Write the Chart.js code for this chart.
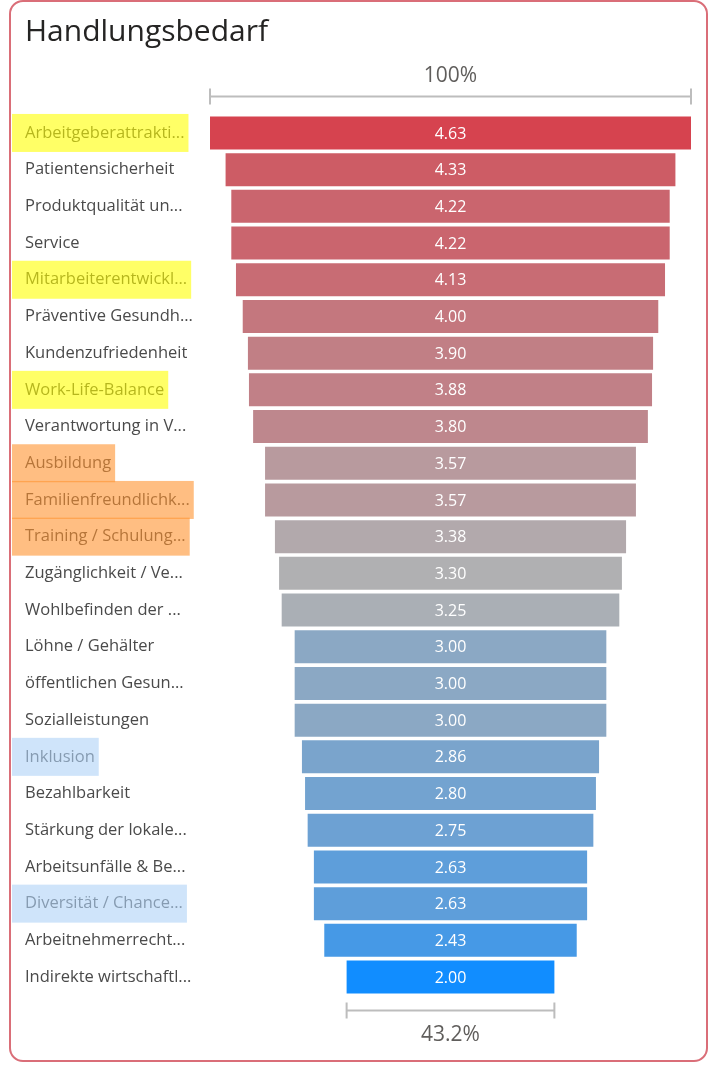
<!DOCTYPE html>
<html>
<head>
<meta charset="utf-8">
<script src="https://cdn.jsdelivr.net/npm/chart.js@4"></script>
<style>
  html, body { margin: 0; padding: 0; background: #fff; }
  #wrap { position: relative; width: 710px; height: 1065px; overflow: hidden; }
  #frame { position: absolute; left: 9px; top: 0px; width: 695px; height: 1058px;
           border: 2px solid #DA6E78; border-radius: 14px; box-sizing: content-box; pointer-events: none; }
  #title { position: absolute; left: 25px; top: 9px; font-family: "Open Sans", sans-serif;
           font-size: 30px; color: #252423; line-height: 42px; margin: 0; font-weight: 400; }
  canvas { position: absolute; left: 0; top: 0; }
</style>
</head>
<body>
<div id="wrap">
  <canvas id="c" width="710" height="1065"></canvas>
  <div id="frame"></div>
  <div id="title">Handlungsbedarf</div>
</div>
<script>
const categories = [
  'Arbeitgeberattrakti...', 'Patientensicherheit', 'Produktqualität un...', 'Service',
  'Mitarbeiterentwickl...', 'Präventive Gesundh...', 'Kundenzufriedenheit', 'Work-Life-Balance',
  'Verantwortung in V...', 'Ausbildung', 'Familienfreundlichk...', 'Training / Schulung...',
  'Zugänglichkeit / Ve...', 'Wohlbefinden der ...', 'Löhne / Gehälter', 'öffentlichen Gesun...',
  'Sozialleistungen', 'Inklusion', 'Bezahlbarkeit', 'Stärkung der lokale...',
  'Arbeitsunfälle & Be...', 'Diversität / Chance...', 'Arbeitnehmerrecht...', 'Indirekte wirtschaftl...'
];
const values = [
  4.63, 4.33, 4.22, 4.22,
  4.13, 4.00, 3.90, 3.88,
  3.80, 3.57, 3.57, 3.38,
  3.30, 3.25, 3.00, 3.00,
  3.00, 2.86, 2.80, 2.75,
  2.63, 2.63, 2.43, 2.00
];
const highlightYellow = ['Arbeitgeberattrakti...', 'Mitarbeiterentwickl...', 'Work-Life-Balance'];
const highlightOrange = ['Ausbildung', 'Familienfreundlichk...', 'Training / Schulung...'];
const highlightBlue = ['Inklusion', 'Diversität / Chance...'];

const maxV = Math.max(...values);
const minV = Math.min(...values);
const topLabel = '100%';
const bottomLabel = (minV / maxV * 100).toFixed(1) + '%';

// diverging colour scale: blue (low) -> grey (mid) -> red (high)
const LOW = [17, 141, 255], MID = [176, 176, 178], HIGH = [214, 67, 79];
const MIDV = 3.3;
function colorFor(v) {
  let a, b, t;
  if (v <= MIDV) { a = MID; b = LOW; t = (MIDV - v) / (MIDV - minV); }
  else { a = MID; b = HIGH; t = (v - MIDV) / (maxV - MIDV); }
  const c = a.map((x, i) => Math.round(x + (b[i] - x) * t));
  return `rgb(${c[0]},${c[1]},${c[2]})`;
}

const FONT = '"Open Sans", sans-serif';
const LABEL_SIZE = 16.5;

const overlayPlugin = {
  id: 'overlay',
  afterDatasetsDraw(chart) {
    const ctx = chart.ctx;
    const meta = chart.getDatasetMeta(0);
    ctx.save();
    ctx.font = '16px ' + FONT;
    ctx.fillStyle = '#ffffff';
    ctx.textAlign = 'center';
    ctx.textBaseline = 'middle';
    meta.data.forEach((el, i) => {
      const cx = (el.x + el.base) / 2;
      ctx.fillText(values[i].toFixed(2), cx, el.y + 1);
    });
    ctx.restore();
  },
  afterDraw(chart) {
    const ctx = chart.ctx;
    const xs = chart.scales.x, ys = chart.scales.y;
    const area = chart.chartArea;
    ctx.save();
    // brackets
    ctx.strokeStyle = '#BDBDBD';
    ctx.lineWidth = 2;
    const drawBracket = (x1, x2, y) => {
      ctx.beginPath();
      ctx.moveTo(x1, y); ctx.lineTo(x2, y);
      ctx.moveTo(x1, y - 8); ctx.lineTo(x1, y + 8);
      ctx.moveTo(x2, y - 8); ctx.lineTo(x2, y + 8);
      ctx.stroke();
    };
    const tyTop = area.top - 18;
    drawBracket(xs.getPixelForValue(-maxV / 2), xs.getPixelForValue(maxV / 2), tyTop);
    const tyBot = area.bottom + 15;
    drawBracket(xs.getPixelForValue(-minV / 2), xs.getPixelForValue(minV / 2), tyBot);
    ctx.fillStyle = '#605E5C';
    ctx.font = '21px ' + FONT;
    ctx.textAlign = 'center';
    ctx.textBaseline = 'middle';
    ctx.fillText(topLabel, xs.getPixelForValue(0), tyTop - 21);
    ctx.fillText(bottomLabel, xs.getPixelForValue(0), tyBot + 25);

    // highlighter marks over labels
    ctx.font = LABEL_SIZE + 'px ' + FONT;
    const mark = (list, color) => {
      list.forEach(name => {
        const i = categories.indexOf(name);
        if (i < 0) return;
        const y = ys.getPixelForValue(i);
        const w = ctx.measureText(name).width;
        ctx.fillStyle = color;
        ctx.fillRect(12, y - 19, 25 + w + 4 - 12, 38);
      });
    };
    mark(highlightYellow, 'rgba(255,255,0,0.6)');
    mark(highlightOrange, 'rgba(255,147,47,0.6)');
    mark(highlightBlue, 'rgba(175,210,247,0.6)');
    ctx.restore();
  }
};

new Chart(document.getElementById('c'), {
  type: 'bar',
  data: {
    labels: categories,
    datasets: [{
      data: values.map(v => [-v / 2, v / 2]),
      backgroundColor: values.map(colorFor),
      borderWidth: 0,
      barPercentage: 0.9,
      categoryPercentage: 1.0
    }]
  },
  options: {
    indexAxis: 'y',
    responsive: false,
    devicePixelRatio: 1,
    animation: false,
    layout: { padding: { left: 25, right: 19, top: 114.6, bottom: 69.6 } },
    plugins: { legend: { display: false }, tooltip: { enabled: false }, title: { display: false } },
    scales: {
      x: { display: false, min: -maxV / 2, max: maxV / 2 },
      y: {
        grid: { display: false, drawTicks: false },
        border: { display: false },
        ticks: {
          crossAlign: 'far',
          padding: 0,
          color: '#4A4A4A',
          font: { family: FONT, size: LABEL_SIZE }
        },
        afterFit(axis) { axis.width = 185; }
      }
    }
  },
  plugins: [overlayPlugin]
});
</script>
</body>
</html>
